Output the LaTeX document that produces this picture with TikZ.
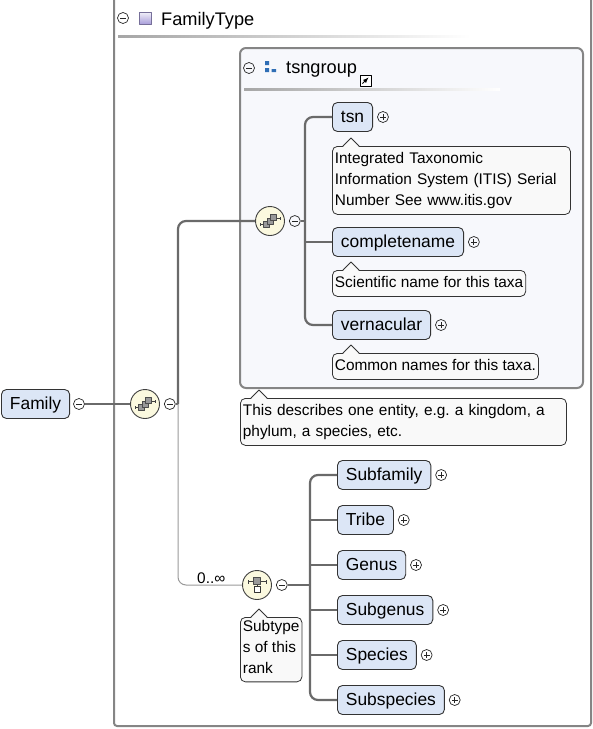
\documentclass[tikz,border=0pt]{standalone}
\usepackage{fontspec}
\setmainfont{Liberation Sans}
\usetikzlibrary{positioning}
\definecolor{elemfill}{HTML}{DCE6F6}
\definecolor{compfill}{HTML}{FBF9DF}
\definecolor{docfill}{HTML}{F9F9F9}
\definecolor{grpfill}{HTML}{F7F8FC}
\definecolor{linegray}{HTML}{6A6A6A}
\definecolor{boxgray}{HTML}{858585}
\definecolor{iconblue}{HTML}{2F6EB5}
\definecolor{iconlilac}{HTML}{A99EDA}
\frenchspacing
\begin{document}
\begin{tikzpicture}[x=1pt, y=1pt, line join=round,
  elem/.style={draw=black!80, fill=elemfill, rounded corners=5pt, line width=.9pt, anchor=west, inner xsep=8.5pt, inner ysep=0pt, minimum height=29pt, font=\fontsize{17.4}{21}\selectfont, execute at begin node={\rule[-5.5pt]{0pt}{21pt}}},
  doc/.style={draw=black!80, fill=docfill, rounded corners=5pt, line width=.8pt, anchor=north west, align=left, inner xsep=2.5pt, inner ysep=2.5pt, font=\fontsize{15.4}{21}\selectfont, execute at begin node=\strut, execute at end node=\strut},
  compo/.style={circle, draw=black!75, fill=compfill, line width=.9pt, minimum size=29pt, inner sep=0pt},
  collapse/.style={circle, draw=black!85, line width=.7pt, minimum size=11pt, inner sep=0pt, path picture={\draw[line width=.8pt] ([xshift=2.6pt]path picture bounding box.west) -- ([xshift=-2.6pt]path picture bounding box.east);}},
  expand/.style={collapse, path picture={\draw[line width=.8pt] ([xshift=2.6pt]path picture bounding box.west) -- ([xshift=-2.6pt]path picture bounding box.east) ([yshift=-2.6pt]path picture bounding box.north) -- ([yshift=2.6pt]path picture bounding box.south);}},
  conn/.style={draw=linegray, line width=2.2pt},
  thinconn/.style={draw=black!40, line width=1pt},
  boxline/.style={draw=boxgray, line width=2pt},
  headrule/.style={left color=black!35, right color=white},
  headtext/.style={anchor=base west, inner sep=0pt, font=\fontsize{18.2}{21}\selectfont}]
\useasboundingbox (0,0) rectangle (593,-729);
\path
(178,-404) coordinate (j1)
(305,-221) coordinate (j2)
(310,-585) coordinate (j3);
\draw[boxline, rounded corners=3pt] (114,0) -- (114,-726) -- (591,-726) -- (591,0);
\node[collapse] (ftype-c) at (123,-18) {};
\node[draw=iconlilac!70!black, top color=iconlilac!15, bottom color=iconlilac, minimum size=12pt, inner sep=0pt] (ftype-i) at (145.5,-18) {};
\node[headtext] (ftype) at (161,-25) {FamilyType};
\shade[headrule] (118,-35.5) rectangle (470,-37);
\draw[boxline, fill=grpfill, rounded corners=6pt] (240,-48) rectangle (583,-388);
\node[collapse] (grp-c) at (249,-68) {};
\fill[iconblue] (265,-61) rectangle (269,-65) (265,-68) rectangle (269,-72) (271.5,-69) rectangle (276,-72);
\node[headtext] (grp) at (286,-73) {tsngroup};
\node[draw=black, fill=white, line width=.7pt, minimum size=11pt, inner sep=0pt] (grp-ref) at (365.5,-80.5) {};
\draw[-latex, line width=.9pt] ([shift={(-3,-3)}]grp-ref.center) -- ([shift={(3,3)}]grp-ref.center);
\shade[headrule] (244,-88.5) rectangle (500,-90);
\node[elem] (fam) at (1,-404) {Family};
\node[collapse, right=3pt of fam] (fam-c) {};
\node[compo] (seq1) at (145,-404) {};
\node[collapse, right=4pt of seq1] (seq1-c) {};
\node[compo] (seq2) at (270,-221) {};
\node[collapse, right=4pt of seq2] (seq2-c) {};
\node[compo] (ch) at (257,-585) {};
\node[collapse, right=4pt of ch] (ch-c) {};
\foreach \n/\t/\y in {tsn/tsn/117, cname/completename/242, vern/vernacular/325}
  \node[elem] (\n) at (332,-\y) {\t};
\foreach \n/\t/\y in {sfam/Subfamily/475, tribe/Tribe/520, genus/Genus/565, sgen/Subgenus/610, spec/Species/655, sspec/Subspecies/700}
  \node[elem] (\n) at (337,-\y) {\t};
\foreach \n in {tsn,cname,vern,sfam,tribe,genus,sgen,spec,sspec}
  \node[expand, right=4pt of \n] (\n-x) {};
\node[doc, text width=233pt] (dtsn) at (332,-146) {Integrated Taxonomic\\Information System (ITIS) Serial\\Number See www.itis.gov};
\node[doc] (dcname) at (332,-270) {Scientific name for this taxa};
\node[doc] (dvern) at (332,-353) {Common names for this taxa.};
\node[doc, text width=321pt] (dgrp) at (240,-398) {This describes one entity, e.g. a kingdom, a\\phylum, a species, etc.};
\node[doc] (dch) at (240,-617) {Subtype\\s of this\\rank};
\foreach \d in {dtsn,dcname,dvern,dgrp,dch}{
  \fill[docfill] ([xshift=11pt,yshift=-1pt]\d.north west) -- ++(8pt,9pt) -- ++(8pt,-9pt) -- cycle;
  \draw[draw=black!80, line width=.8pt] ([xshift=11pt]\d.north west) -- ++(8pt,8pt) -- ++(8pt,-8pt);
}
\node[anchor=base west, inner sep=0pt, font=\fontsize{15.4}{21}\selectfont] (occ) at (197,-583) {0..∞};
\draw[conn] (fam-c.east) -- (seq1.west);
\draw[conn] (seq1-c.east) -- (j1);
\draw[conn, rounded corners=8pt] (j1) |- (seq2.west);
\draw[thinconn, rounded corners=8pt] (j1) |- (ch.west);
\draw[conn] (seq2-c.east) -- (j2);
\draw[conn, rounded corners=8pt] (tsn.west) -| (j2) |- (vern.west);
\draw[conn] (cname.west) -- (cname.west -| j2);
\draw[conn] (ch-c.east) -- (j3);
\draw[conn, rounded corners=8pt] (sfam.west) -| (j3) |- (sspec.west);
\foreach \n in {tribe,genus,sgen,spec}
  \draw[conn] (\n.west) -- (\n.west -| j3);
\foreach \c in {seq1,seq2}{
  \draw[black!75, line width=.7pt] ([shift={(-10,-3)}]\c.center) -- ++(4,0) ([shift={(6,3)}]\c.center) -- ++(4,0)
    ([shift={(-10,-4.5)}]\c.center) -- ++(0,3) ([shift={(10,1.5)}]\c.center) -- ++(0,3);
  \foreach \s in {-3.5,0,3.5}
    \filldraw[fill=black!40, draw=black!70, line width=.5pt] ([shift={(\s-3,\s-3)}]\c.center) rectangle ++(6,6);
}
\draw[black!75, line width=.7pt] ([shift={(-9,3.5)}]ch.center) -- ++(18,0) ([shift={(-9,1.5)}]ch.center) -- ++(0,4)
  ([shift={(9,1.5)}]ch.center) -- ++(0,4) ([shift={(0,0.5)}]ch.center) -- ++(0,-2);
\filldraw[fill=black!40, draw=black!70, line width=.5pt] ([shift={(-3.5,0.5)}]ch.center) rectangle ++(7,7);
\filldraw[fill=white, draw=black!80, line width=.6pt] ([shift={(-3,-7.5)}]ch.center) rectangle ++(6,6);
\end{tikzpicture}
\end{document}
